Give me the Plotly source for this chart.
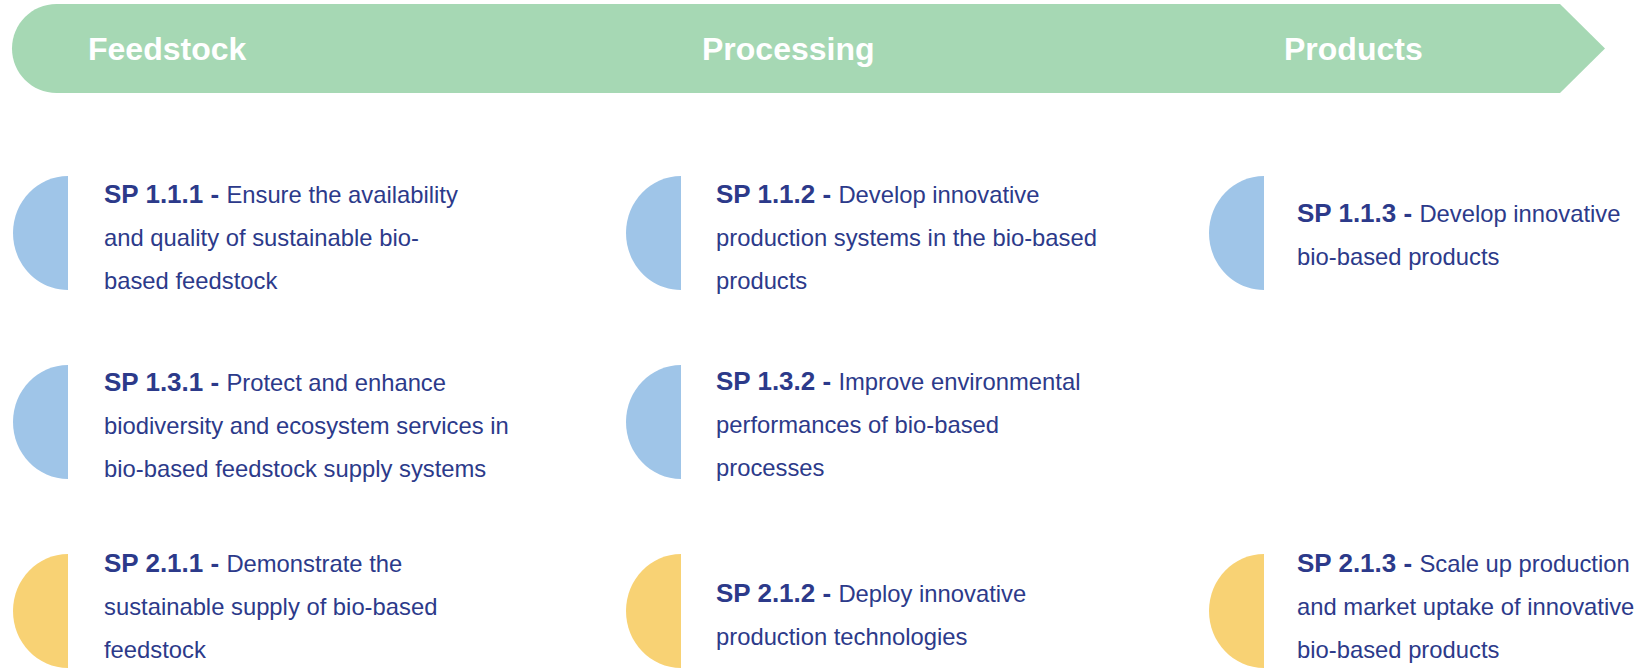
import plotly.graph_objects as go

# ---- content ----
stages = ["Feedstock", "Processing", "Products"]

# rows x columns of sub-priorities (None = empty cell)
sp_codes = [
    ["SP 1.1.1", "SP 1.1.2", "SP 1.1.3"],
    ["SP 1.3.1", "SP 1.3.2", None],
    ["SP 2.1.1", "SP 2.1.2", "SP 2.1.3"],
]
sp_lines = [
    [
        ["Ensure the availability", "and quality of sustainable bio-", "based feedstock"],
        ["Develop innovative", "production systems in the bio-based", "products"],
        ["Develop innovative", "bio-based products"],
    ],
    [
        ["Protect and enhance", "biodiversity and ecosystem services in", "bio-based feedstock supply systems"],
        ["Improve environmental", "performances of bio-based", "processes"],
        None,
    ],
    [
        ["Demonstrate the", "sustainable supply of bio-based", "feedstock"],
        ["Deploy innovative", "production technologies"],
        ["Scale up production", "and market uptake of innovative", "bio-based products"],
    ],
]
row_group = ["blue", "blue", "yellow"]

# ---- styles / layout ----
W, H = 1652, 668
GREEN = "#a6d8b4"
GROUP_COLORS = {"blue": "#9fc5e8", "yellow": "#f8d274"}
TEXT = "#2c3a8a"
FONT = "Liberation Sans, Arial, sans-serif"

head_top, head_bot = 4, 93
head_left, head_body_end, head_tip = 12, 1560, 1605
stage_text_x = [86, 700, 1282]

flat_x = [68, 681, 1264]
text_x = [102, 714, 1295]
row_cy = [233, 422, 611]
text_dy = [[4, 4, 2], [3, 2, 0], [-5, 4, -5]]  # vertical nudge of each text block
RX, RY = 55, 57
LINE_H = 43.5
FS = 23.8
FS_B = 26

fig = go.Figure()
fig.add_trace(go.Scatter(x=[0, W], y=[0, H], mode="markers",
                         marker=dict(opacity=0), hoverinfo="skip", showlegend=False))

shapes = []
annotations = []

# header arrow with rounded left end
r = (head_bot - head_top) / 2
cy = (head_top + head_bot) / 2
k = 0.5523
x0 = head_left + r
path = (f"M {x0},{head_top} L {head_body_end},{head_top} L {head_tip},{cy} "
        f"L {head_body_end},{head_bot} L {x0},{head_bot} "
        f"C {x0 - k*r},{head_bot} {head_left},{cy + k*r} {head_left},{cy} "
        f"C {head_left},{cy - k*r} {x0 - k*r},{head_top} {x0},{head_top} Z")
shapes.append(dict(type="path", path=path, fillcolor=GREEN, line=dict(width=0),
                   xref="x", yref="y", layer="below"))

for sx, name in zip(stage_text_x, stages):
    annotations.append(dict(x=sx, y=cy, xref="x", yref="y", text=f"<b>{name}</b>",
                            showarrow=False, xanchor="left", yanchor="middle",
                            font=dict(family=FONT, size=32, color="white")))

for ri, row in enumerate(sp_codes):
    for ci, code in enumerate(row):
        if code is None:
            continue
        fx = flat_x[ci]
        c = row_cy[ri]
        p = (f"M {fx},{c - RY} C {fx - k*RX},{c - RY} {fx - RX},{c - k*RY} {fx - RX},{c} "
             f"C {fx - RX},{c + k*RY} {fx - k*RX},{c + RY} {fx},{c + RY} Z")
        shapes.append(dict(type="path", path=p, fillcolor=GROUP_COLORS[row_group[ri]],
                           line=dict(width=0), xref="x", yref="y", layer="below"))
        lines = sp_lines[ri][ci]
        n = len(lines)
        for li, line in enumerate(lines):
            y = c + text_dy[ri][ci] + (li - (n - 1) / 2) * LINE_H
            if li == 0:
                txt = f"<span style='font-size:{FS_B}px'><b>{code} - </b></span>{line}"
            else:
                txt = line
            annotations.append(dict(x=text_x[ci], y=y, xref="x", yref="y", text=txt,
                                    showarrow=False, xanchor="left", yanchor="middle",
                                    font=dict(family=FONT, size=FS, color=TEXT)))

fig.update_layout(
    width=W, height=H, margin=dict(l=0, r=0, t=0, b=0),
    paper_bgcolor="white", plot_bgcolor="white",
    xaxis=dict(range=[0, W], visible=False, fixedrange=True),
    yaxis=dict(range=[H, 0], visible=False, fixedrange=True),
    shapes=shapes, annotations=annotations, showlegend=False,
)
fig.write_html("out.html", config={"displayModeBar": False},
               post_script="document.body.style.margin='0';")
